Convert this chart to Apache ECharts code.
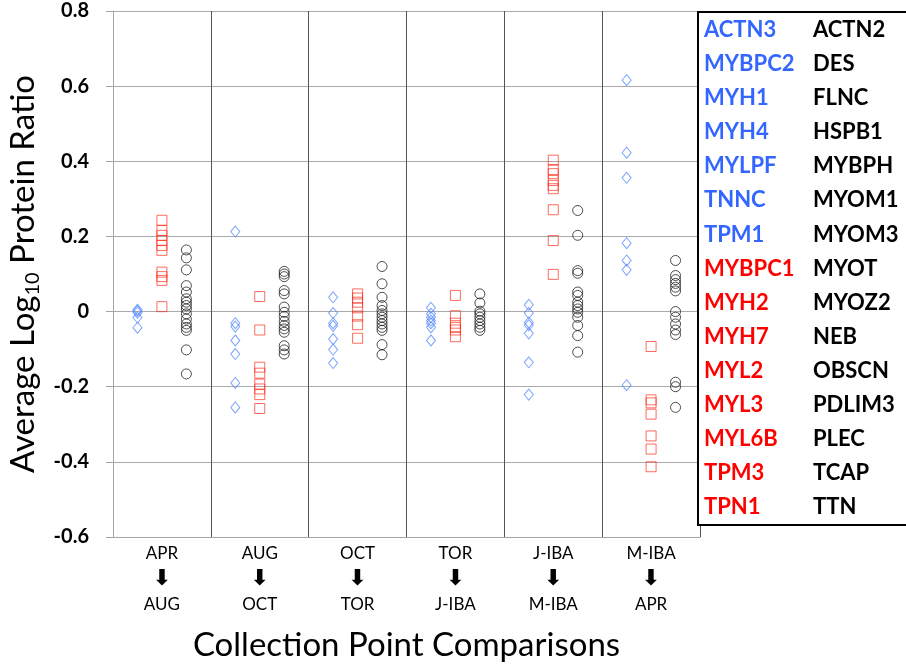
<!DOCTYPE html>
<html><head><meta charset="utf-8">
<script src="https://cdn.jsdelivr.net/npm/echarts@6/dist/echarts.min.js"></script>
<style>html,body{margin:0;padding:0;background:#fff}#c{width:906px;height:667px}</style>
</head><body><div id="c"></div><script>
// Comparison categories (from -> to)
const fromPoints = ['APR', 'AUG', 'OCT', 'TOR', 'J-IBA', 'M-IBA'];
const toPoints   = ['AUG', 'OCT', 'TOR', 'J-IBA', 'M-IBA', 'APR'];
const yTicks = [-0.6, -0.4, -0.2, 0, 0.2, 0.4, 0.6, 0.8];

// Blue-labelled proteins (diamonds), one list per comparison
const blueValues = [
  [0.005, 0.002, -0.003, -0.016, -0.043],
  [0.213, -0.031, -0.04, -0.077, -0.113, -0.19, -0.255],
  [0.038, -0.004, -0.031, -0.038, -0.073, -0.101, -0.137],
  [0.01, -0.006, -0.015, -0.024, -0.031, -0.042, -0.077],
  [0.018, -0.004, -0.029, -0.036, -0.058, -0.135, -0.221],
  [0.616, 0.423, 0.356, 0.182, 0.136, 0.111, -0.196]
];
// Red-labelled proteins (squares)
const redValues = [
  [0.243, 0.216, 0.203, 0.189, 0.176, 0.163, 0.105, 0.093, 0.083, 0.013],
  [0.04, -0.049, -0.148, -0.164, -0.193, -0.206, -0.221, -0.258],
  [0.047, 0.036, 0.025, 0.01, -0.012, -0.035, -0.071],
  [0.043, -0.011, -0.031, -0.042, -0.049, -0.067],
  [0.403, 0.378, 0.367, 0.349, 0.336, 0.327, 0.271, 0.189, 0.099],
  [-0.093, -0.235, -0.243, -0.273, -0.331, -0.366, -0.413]
];
// Black-labelled proteins (circles)
const blackValues = [
  [0.164, 0.143, 0.111, 0.069, 0.052, 0.034, 0.025, 0.016, 0.007, -0.006, -0.02, -0.033, -0.042, -0.05, -0.102, -0.166],
  [0.107, 0.1, 0.093, 0.056, 0.047, 0.012, -0.002, -0.013, -0.026, -0.037, -0.046, -0.055, -0.091, -0.102, -0.113],
  [0.12, 0.074, 0.038, 0.016, 0.003, -0.006, -0.015, -0.024, -0.033, -0.042, -0.05, -0.088, -0.115],
  [0.047, 0.023, 0.001, -0.006, -0.015, -0.024, -0.033, -0.042, -0.05],
  [0.269, 0.203, 0.109, 0.102, 0.052, 0.043, 0.025, 0.016, 0.007, -0.002, -0.015, -0.037, -0.064, -0.108],
  [0.136, 0.096, 0.085, 0.075, 0.065, 0.055, 0.0, -0.015, -0.033, -0.049, -0.061, -0.188, -0.2, -0.255]
];

// Legend gene lists
const blueGenes = ['ACTN3', 'MYBPC2', 'MYH1', 'MYH4', 'MYLPF', 'TNNC', 'TPM1'];
const redGenes = ['MYBPC1', 'MYH2', 'MYH7', 'MYL2', 'MYL3', 'MYL6B', 'TPM3', 'TPN1'];
const blackGenes = ['ACTN2', 'DES', 'FLNC', 'HSPB1', 'MYBPH', 'MYOM1', 'MYOM3', 'MYOT', 'MYOZ2', 'NEB', 'OBSCN', 'PDLIM3', 'PLEC', 'TCAP', 'TTN'];

const BLUE = '#3366ff', RED = '#ff0000';
const FONT = 'Lato';

function place(groups, offset) {
  const out = [];
  groups.forEach((g, i) => g.forEach(v => out.push([i + offset, v])));
  return out;
}

const chart = echarts.init(document.getElementById('c'), null, {renderer: 'canvas'});

const leftCol = blueGenes.map(g => ({t: g, c: BLUE})).concat(redGenes.map(g => ({t: g, c: RED})));
const legendTexts = [];
leftCol.forEach((it, i) => {
  legendTexts.push({type: 'text', x: 704, y: 30 + 34.07 * i,
    style: {text: it.t, fill: it.c, font: 'bold 22px ' + FONT, verticalAlign: 'middle', align: 'left'}});
});
blackGenes.forEach((g, i) => {
  legendTexts.push({type: 'text', x: 813, y: 30 + 34.07 * i,
    style: {text: g, fill: '#000', font: 'bold 22px ' + FONT, verticalAlign: 'middle', align: 'left'}});
});

chart.setOption({
  animation: false,
  backgroundColor: '#fff',
  grid: {left: 113, right: 206, top: 11, bottom: 130, containLabel: false, outerBoundsMode: 'none'},
  xAxis: [{
    type: 'value', min: 0, max: 6, interval: 1,
    axisLine: {show: true, onZero: false, lineStyle: {color: '#a6a6a6', width: 1}},
    axisTick: {show: false}, axisLabel: {show: false},
    splitLine: {show: true, showMinLine: false, lineStyle: {color: '#555', width: 1}}
  }, {
    type: 'category', data: fromPoints, position: 'bottom',
    axisLine: {show: false}, axisTick: {show: false},
    axisLabel: {
      margin: 4, interval: 0,
      formatter: (v, i) => '{a|' + v + '}\n{b|\u2B07}\n{a|' + toPoints[i] + '}',
      rich: {
        a: {fontFamily: FONT, fontSize: 17, color: '#000', lineHeight: 25.5},
        b: {fontFamily: 'DejaVu Sans', fontSize: 22, color: '#000', lineHeight: 25.5, fontWeight: 'bold'}
      }
    },
    name: 'Collection Point Comparisons', nameLocation: 'middle', nameGap: 92,
    nameTextStyle: {fontFamily: FONT, fontSize: 33, color: '#000'}
  }],
  yAxis: {
    type: 'value', min: -0.6, max: 0.8, interval: 0.2,
    axisLine: {show: true, onZero: false, lineStyle: {color: '#a6a6a6', width: 1}},
    axisTick: {show: true, length: 7, lineStyle: {color: '#a6a6a6'}},
    axisLabel: {
      margin: 24, fontFamily: FONT, fontWeight: 'bold', fontSize: 20, color: '#000',
      formatter: v => { const r = Math.round(v * 10) / 10; return r === 0 ? '0' : r.toFixed(1); }
    },
    splitLine: {show: true, lineStyle: {color: '#aaaaaa', width: 1}},
    name: '{n|Average Log}{s|10}{n| Protein Ratio}', nameLocation: 'middle', nameGap: 70, nameRotate: 90,
    nameTextStyle: {
      rich: {
        n: {fontFamily: FONT, fontSize: 33, color: '#000', lineHeight: 38},
        s: {fontFamily: FONT, fontSize: 20, color: '#000', lineHeight: 22, verticalAlign: 'bottom'}
      }
    }
  },
  series: [{
    type: 'scatter', xAxisIndex: 0, data: place(blueValues, 0.25),
    symbol: 'diamond', symbolSize: [9, 11],
    itemStyle: {color: 'rgba(0,0,0,0)', borderColor: '#5b8cff', borderWidth: 1}
  }, {
    type: 'scatter', xAxisIndex: 0, data: place(redValues, 0.5),
    symbol: 'rect', symbolSize: 10,
    itemStyle: {color: 'rgba(0,0,0,0)', borderColor: 'rgba(255,40,20,0.85)', borderWidth: 1}
  }, {
    type: 'scatter', xAxisIndex: 0, data: place(blackValues, 0.75),
    symbol: 'circle', symbolSize: 10,
    itemStyle: {color: 'rgba(0,0,0,0)', borderColor: '#222', borderWidth: 1}
  }],
  graphic: [{
    type: 'rect', shape: {x: 698, y: 12, width: 230, height: 513},
    style: {fill: '#fff', stroke: '#000', lineWidth: 2}, z: 10
  }].concat(legendTexts.map(t => Object.assign(t, {z: 11})))
});
</script></body></html>
